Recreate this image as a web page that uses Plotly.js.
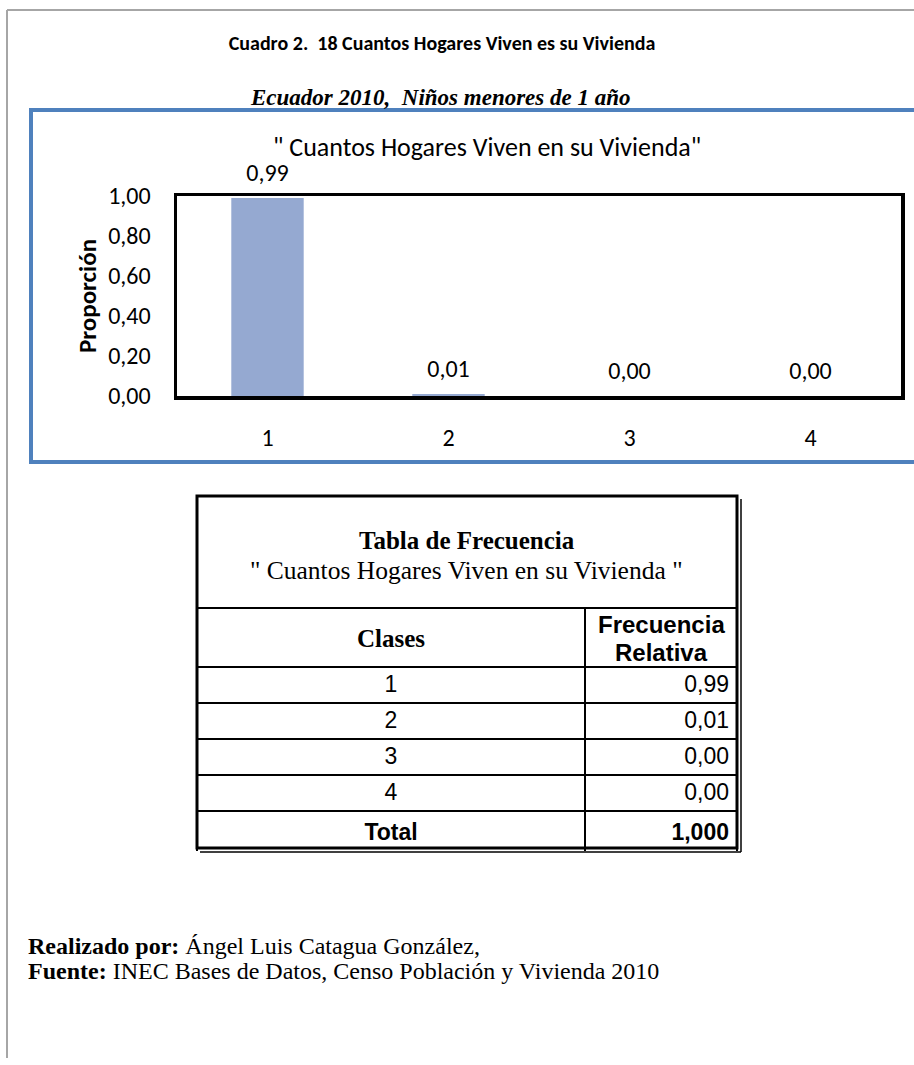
<!DOCTYPE html>
<html><head><meta charset="utf-8">
<script src="https://cdn.plot.ly/plotly-3.0.1.min.js"></script>
<style>html,body{margin:0;padding:0;background:#fff;} #chart{width:914px;height:1065px;}</style>
</head><body><div id="chart"></div>
<script>
// ---- data ----
const categories = ['1', '2', '3', '4'];
const proportions = [0.99, 0.01, 0.00, 0.00];
const yTickVals = [0, 0.2, 0.4, 0.6, 0.8, 1.0];
const totalLabel = 'Total';
const totalValue = '1,000';
const headerClases = 'Clases';
const headerFreq = ['Frecuencia', 'Relativa'];

// ---- helpers ----
const W = 914, H = 1065;
const px = x => x / W;
const py = y => 1 - y / H;
const CAL = 'Carlito, Calibri, Lato, sans-serif';
const TNR = '"Liberation Serif", "Times New Roman", serif';
const ARI = '"Liberation Sans", Arial, sans-serif';

const fmt = v => v.toFixed(2).replace('.', ',');
const tableClasses = categories.concat(['<b>' + totalLabel + '</b>']);
const tableRel = proportions.map(fmt).concat(['<b>' + totalValue + '</b>']);

const bar = {
  type: 'bar', x: categories, y: proportions,
  marker: {color: '#95A9D1'},
  hoverinfo: 'skip', xaxis: 'x', yaxis: 'y'
};

const barLabels = {
  type: 'scatter', mode: 'markers+text', x: categories, y: proportions,
  marker: {size: 16, color: 'rgba(0,0,0,0)'},
  texttemplate: '%{y:.2f}', textposition: 'top center', cliponaxis: false,
  textfont: {family: CAL, size: 24, color: '#000'},
  hoverinfo: 'skip', xaxis: 'x', yaxis: 'y'
};

const table = {
  type: 'table',
  domain: {x: [px(197), px(737)], y: [py(851), py(608)]},
  columnwidth: [388, 152],
  header: {
    values: ['', ''],
    height: 59,
    line: {color: '#000', width: 2},
    fill: {color: '#fff'}
  },
  cells: {
    values: [tableClasses, tableRel],
    height: 36,
    align: ['center', 'right'],
    font: {family: ARI, size: 23, color: '#000'},
    line: {color: '#000', width: 2},
    fill: {color: '#fff'}
  }
};

const ann = (text, x, y, font, anchor) => ({
  text: text, xref: 'paper', yref: 'paper', x: px(x), y: py(y),
  xanchor: anchor || 'center', yanchor: 'middle', showarrow: false, font: font
});

const layout = {
  width: W, height: H,
  margin: {l: 0, r: 0, t: 0, b: 0},
  paper_bgcolor: '#fff', plot_bgcolor: '#fff',
  showlegend: false,
  separators: ',.',
  bargap: 0.6,
  title: {
    text: '<b>Cuadro 2.\u00a0 18 Cuantos Hogares Viven es su Vivienda</b>',
    font: {family: CAL, size: 20, color: '#000'},
    x: px(442), xanchor: 'center', y: py(43), yanchor: 'middle', xref: 'paper', yref: 'paper'
  },
  xaxis: {
    domain: [px(177), px(901)], type: 'category',
    showline: true, mirror: true, linecolor: '#000', linewidth: 3.5,
    showgrid: false, zeroline: false, ticks: '',
    ticklabelstandoff: 18,
    tickfont: {family: CAL, size: 24, color: '#000'}, fixedrange: true
  },
  yaxis: {
    domain: [py(396), py(196)], range: [0, 1],
    tickvals: yTickVals, tickformat: '.2f',
    showline: true, mirror: true, linecolor: '#000', linewidth: 3.5,
    showgrid: false, zeroline: false, ticks: '',
    ticklabelstandoff: 18,
    tickfont: {family: CAL, size: 24, color: '#000'},
    title: {text: '<b>Proporción</b>', font: {family: CAL, size: 25, color: '#000'}, standoff: 5},
    fixedrange: true
  },
  shapes: [
    {type: 'line', xref: 'paper', yref: 'paper', x0: px(7), x1: 1.01, y0: py(10), y1: py(10), line: {color: '#A6A6A6', width: 2}},
    {type: 'line', xref: 'paper', yref: 'paper', x0: px(7), x1: px(7), y0: py(10), y1: py(1058), line: {color: '#A6A6A6', width: 2}},
    {type: 'rect', xref: 'paper', yref: 'paper', x0: px(31), x1: px(940), y0: py(462), y1: py(110), line: {color: '#4F81BD', width: 4}},
    {type: 'rect', xref: 'paper', yref: 'paper', x0: px(197), x1: px(737), y0: py(848), y1: py(496), line: {color: '#000', width: 3}},
    {type: 'line', xref: 'paper', yref: 'paper', x0: px(741), x1: px(741), y0: py(499), y1: py(852), line: {color: '#000', width: 1.5}},
    {type: 'line', xref: 'paper', yref: 'paper', x0: px(200), x1: px(741), y0: py(852), y1: py(852), line: {color: '#000', width: 1.5}}
  ],
  annotations: [
    ann('<b><i>Ecuador 2010,\u00a0 Niños menores de 1 año</i></b>', 440, 97, {family: TNR, size: 23, color: '#000'}),
    ann('" Cuantos Hogares Viven en su Vivienda"', 487, 147, {family: CAL, size: 26, color: '#000'}),
    ann('<b>Tabla de Frecuencia</b>', 467, 540, {family: TNR, size: 25, color: '#000'}),
    ann('" Cuantos Hogares Viven en su Vivienda "', 467, 570, {family: TNR, size: 25.5, color: '#000'}),
    ann('<b>' + headerClases + '</b>', 391, 638, {family: TNR, size: 25, color: '#000'}),
    ann('<b>' + headerFreq[0] + '</b>', 661, 624, {family: ARI, size: 24, color: '#000'}),
    ann('<b>' + headerFreq[1] + '</b>', 661, 652, {family: ARI, size: 24, color: '#000'}),
    ann('<b>Realizado por:</b> Ángel Luis Catagua González,', 26, 946, {family: TNR, size: 24, color: '#000'}, 'left'),
    ann('<b>Fuente:</b> INEC Bases de Datos, Censo Población y Vivienda 2010', 26, 971, {family: TNR, size: 24, color: '#000'}, 'left')
  ]
};

Plotly.newPlot('chart', [bar, barLabels, table], layout, {staticPlot: true, displayModeBar: false});
</script>
</body></html>
